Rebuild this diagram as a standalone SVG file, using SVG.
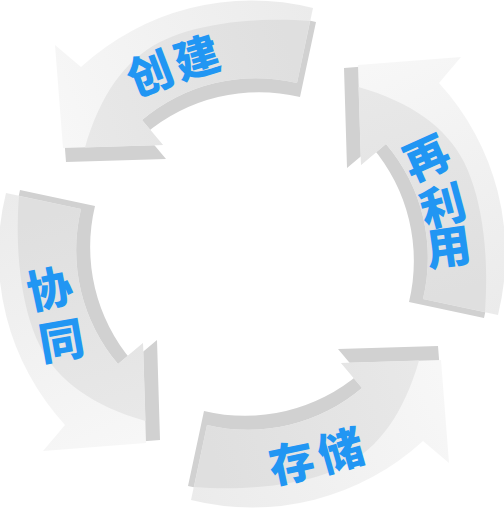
<svg xmlns="http://www.w3.org/2000/svg" xmlns:xlink="http://www.w3.org/1999/xlink" width="504" height="508" viewBox="0 0 504 508">
  <style>
    .lbl { font-family: "Noto Sans CJK SC", "Noto Sans CJK JP", sans-serif; font-weight: 900; font-size: 45px; fill: #2196f3; text-anchor: middle; dominant-baseline: central; }
    .side { fill: #d1d1d1; }
    .top { fill: url(#gLight); }
    .inner { fill: url(#gInner); }
  </style>
  <defs>
    <linearGradient id="gLight" gradientUnits="userSpaceOnUse" x1="313" y1="10" x2="60" y2="130">
      <stop offset="0" stop-color="#ebebeb"/>
      <stop offset="1" stop-color="#f7f7f7"/>
    </linearGradient>
    <linearGradient id="gInner" gradientUnits="userSpaceOnUse" x1="300" y1="80" x2="90" y2="145">
      <stop offset="0" stop-color="#dfdfdf"/>
      <stop offset="1" stop-color="#e8e8e8"/>
    </linearGradient>
    <g id="arrowShape">
      <path class="side" transform="translate(3,14)" d="M55,45 L81,67 A253,253 0 0 1 313,8 L297,83 A176,176 0 0 0 142,120 L163,145 L63,148 Z"/>
      <path class="top" d="M55,45 L81,67 A253,253 0 0 1 313,8 L297,83 A176,176 0 0 0 142,120 L163,145 L63,148 Z"/>
      <path class="inner" d="M310,21 C260,17 200,22 160,42 C125,60 100,95 85,147.5 L163,145 L142,120 A176,176 0 0 1 297,83 Z"/>
    </g>
  </defs>

  <g id="node-create">
    <use href="#arrowShape" xlink:href="#arrowShape"/>
    <text class="lbl" transform="translate(149,71) rotate(-21)">创</text>
    <text class="lbl" transform="translate(196,55) rotate(-17)">建</text>
  </g>

  <g id="node-reuse">
    <use href="#arrowShape" xlink:href="#arrowShape" transform="rotate(90 252 254)"/>
    <text class="lbl" transform="translate(425,155) rotate(-24)">再</text>
    <text class="lbl" transform="translate(442,203) rotate(-15)">利</text>
    <text class="lbl" transform="translate(448,244) rotate(-8)">用</text>
  </g>

  <g id="node-store">
    <use href="#arrowShape" xlink:href="#arrowShape" transform="rotate(180 252 254)"/>
    <text class="lbl" transform="translate(291,460) rotate(-12)">存</text>
    <text class="lbl" transform="translate(340,448) rotate(-16)">储</text>
  </g>

  <g id="node-collab">
    <use href="#arrowShape" xlink:href="#arrowShape" transform="rotate(270 252 254)"/>
    <text class="lbl" transform="translate(49,286) rotate(-12)">协</text>
    <text class="lbl" transform="translate(61,338) rotate(-10)">同</text>
  </g>

  <g id="connectors"/>
</svg>
